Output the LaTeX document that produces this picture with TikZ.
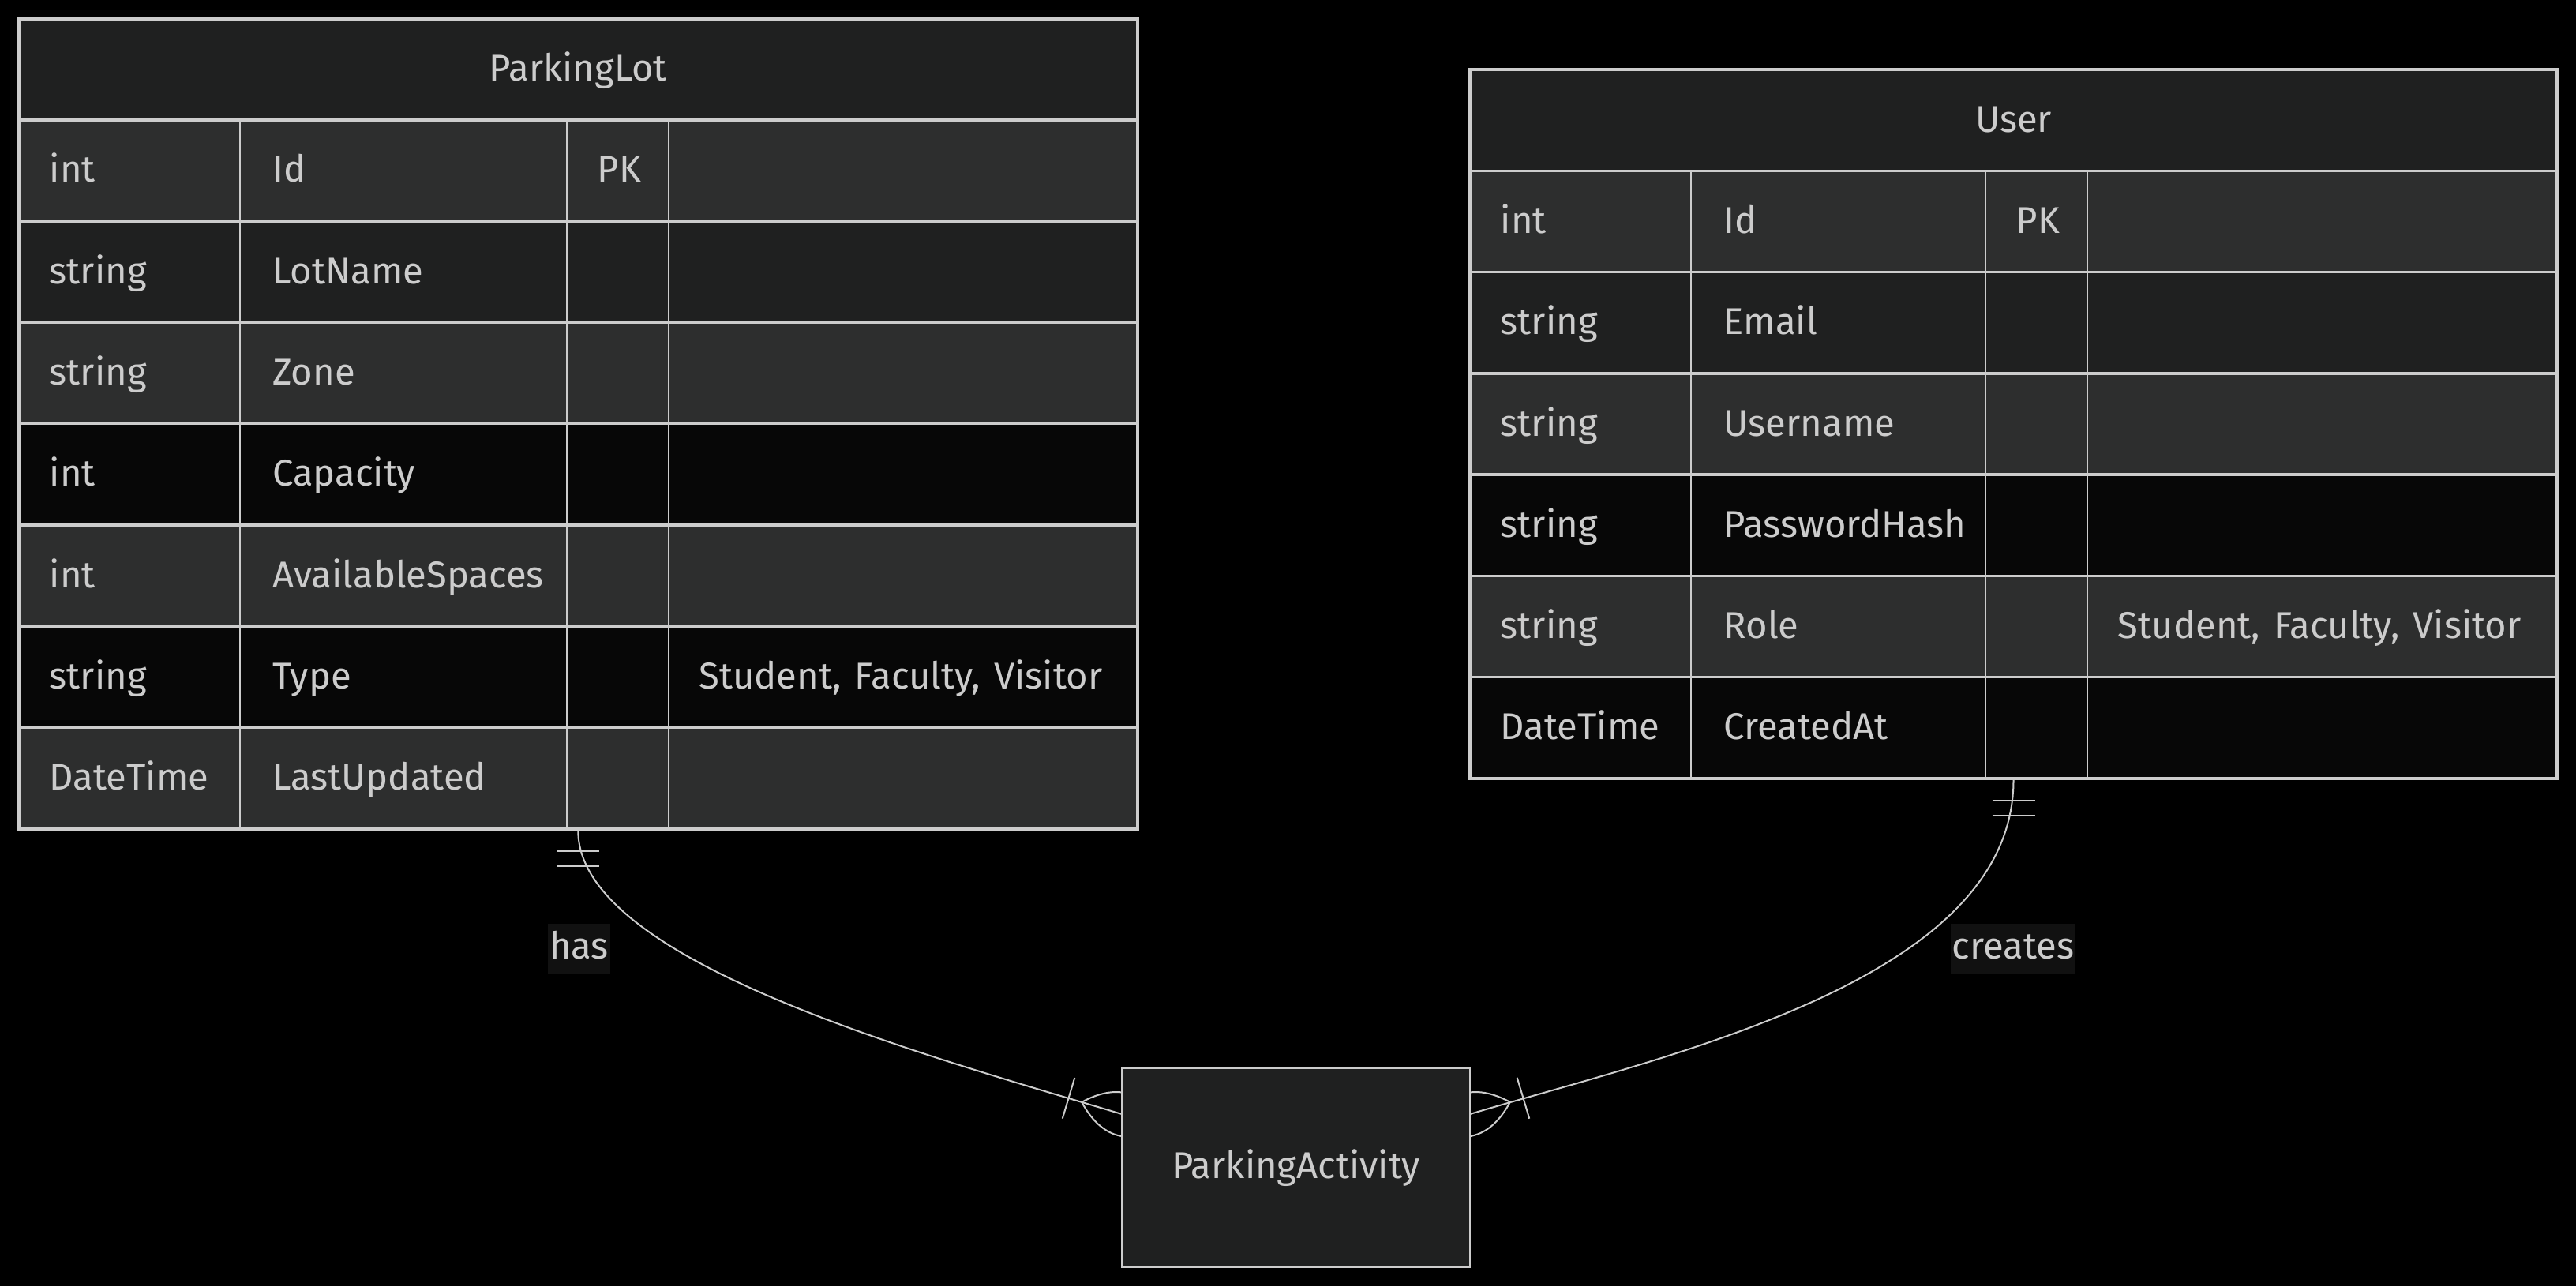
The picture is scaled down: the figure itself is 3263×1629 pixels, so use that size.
\documentclass[tikz,border=0pt]{standalone}
\usepackage{fontspec}
\setmainfont{Fira Sans}
\usetikzlibrary{calc}
\definecolor{bordc}{HTML}{CCCCCC}
\definecolor{textc}{HTML}{CCCCCC}
\definecolor{ttlfill}{HTML}{1F2020}
\definecolor{rowL}{HTML}{2D2E2E}
\definecolor{rowD}{HTML}{070707}
\definecolor{labfill}{HTML}{111111}
\newcommand{\fsz}{\fontsize{11.8pt}{14pt}\selectfont}
\begin{document}
\begin{tikzpicture}[x=0.25pt,y=-0.25pt,
  txt/.style={text=textc,font=\fsz,inner sep=0pt,anchor=base west},
  ttl/.style={text=textc,font=\fsz,inner sep=0pt,anchor=base},
  lab/.style={fill=labfill,text=textc,font=\fsz,inner ysep=0pt,inner xsep=0.4pt,text height=11pt,text depth=4.75pt,anchor=base},
  hsep/.style={draw=bordc,line width=0.875pt},
  vsep/.style={draw=bordc,line width=0.5pt},
  tablebox/.style={draw=bordc,line width=1pt,inner sep=0pt},
  conn/.style={draw=bordc,line width=0.5pt}]
\fill[black] (0,0) rectangle (3263,1629);
\useasboundingbox (0,0) rectangle (3263,1629);

% ---------------- ParkingLot ----------------
\foreach \k/\c in {0/ttlfill,1/rowL,2/ttlfill,3/rowL,4/rowD,5/rowL,6/rowD,7/rowL}
  \fill[\c] (23.5,{23.5+128.3*\k}) rectangle (1441,{23.5+128.3*(\k+1)});
\foreach \k in {1,...,7}
  \draw[hsep] (23.5,{23.5+128.3*\k}) -- (1441,{23.5+128.3*\k});
\foreach \x in {303.5,718,847}
  \draw[vsep] (\x,151.8) -- (\x,1049.9);
\node[tablebox,minimum width=354.375pt,minimum height=256.6pt] (pl) at (732.25,536.7) {};
\node[ttl] (pl-title) at (732.25,102.65) {ParkingLot};
\foreach \k/\a/\b in {1/int/Id,2/string/LotName,3/string/Zone,4/int/Capacity,5/int/AvailableSpaces,6/string/Type,7/DateTime/LastUpdated}{
  \node[txt] (pl-type-\k) at (62,{102.65+128.3*\k}) {\a};
  \node[txt] (pl-name-\k) at (344.5,{102.65+128.3*\k}) {\b};
}
\node[txt] (pl-pk) at (756,230.95) {PK};
\node[txt] (pl-note) at (884.5,{102.65+128.3*6}) {Student,\hspace{1.2pt} Faculty,\hspace{1.2pt} Visitor};

% ---------------- User ----------------
\foreach \k/\c in {0/ttlfill,1/rowL,2/ttlfill,3/rowL,4/rowD,5/rowL,6/rowD}
  \fill[\c] (1862,{88.3+128.2*\k}) rectangle (3239,{88.3+128.2*(\k+1)});
\foreach \k in {1,...,6}
  \draw[hsep] (1862,{88.3+128.2*\k}) -- (3239,{88.3+128.2*\k});
\foreach \x in {2142,2515,2644}
  \draw[vsep] (\x,216.5) -- (\x,985.7);
\node[tablebox,minimum width=344.25pt,minimum height=224.35pt] (user) at (2550.5,537) {};
\node[ttl] (user-title) at (2550.5,167.4) {User};
\foreach \k/\a/\b in {1/int/Id,2/string/Email,3/string/Username,4/string/PasswordHash,5/string/Role,6/DateTime/CreatedAt}{
  \node[txt] (user-type-\k) at (1900,{167.4+128.2*\k}) {\a};
  \node[txt] (user-name-\k) at (2183,{167.4+128.2*\k}) {\b};
}
\node[txt] (user-pk) at (2553,295.6) {PK};
\node[txt] (user-note) at (2682,{167.4+128.2*5}) {Student,\hspace{1.2pt} Faculty,\hspace{1.2pt} Visitor};

% ---------------- ParkingActivity anchors ----------------
\coordinate (pacenter) at (1641.5,1479);
\coordinate (paW) at (1421,1479);
\coordinate (paE) at (1862,1479);

% ---------------- connectors ----------------
\coordinate (hasS) at (pl.south);
\coordinate (hasE) at ($(paW)+(0,-68)$);
\coordinate (crS) at (user.south);
\coordinate (crE) at ($(paE)+(0,-68)$);

\draw[conn] (hasS) .. controls ($(hasS)+(0,166)$) and ($(hasE)+(-248,-74.4)$) .. (hasE);
\draw[conn] (crS) .. controls ($(crS)+(0,255)$) and ($(crE)+(250,-75)$) .. (crE);

% only-one markers
\foreach \s in {hasS,crS}{
  \draw[conn] ($(\s)+(-27,26.5)$) -- ($(\s)+(27,26.5)$);
  \draw[conn] ($(\s)+(-27,45)$) -- ($(\s)+(27,45)$);
}

% one-or-more marker at ParkingActivity west
\coordinate (hasT) at ($(hasE)+(-50.8,-15.2)$);
\coordinate (hasB) at ($(hasE)+(-67.5,-20.2)$);
\draw[conn] (hasT) .. controls ($(hasT)+(45.2,-24.4)$) and ($(hasT)+(80,-13.9)$) .. ($(hasT)+(104.4,31.3)$);
\draw[conn] (hasT) .. controls ($(hasT)+(24.4,45.2)$) and ($(hasT)+(59.2,55.7)$) .. ($(hasT)+(104.4,31.3)$);
\draw[conn] ($(hasB)+(-7.75,25.9)$) -- ($(hasB)+(7.75,-25.9)$);

% one-or-more marker at ParkingActivity east
\coordinate (crT) at ($(crE)+(50.8,-15.2)$);
\coordinate (crB) at ($(crE)+(67.5,-20.2)$);
\draw[conn] (crT) .. controls ($(crT)+(-45.2,-24.4)$) and ($(crT)+(-80,-13.9)$) .. ($(crT)+(-104.4,31.3)$);
\draw[conn] (crT) .. controls ($(crT)+(-24.4,45.2)$) and ($(crT)+(-59.2,55.7)$) .. ($(crT)+(-104.4,31.3)$);
\draw[conn] ($(crB)+(7.75,25.9)$) -- ($(crB)+(-7.75,-25.9)$);

% ---------------- ParkingActivity box ----------------
\node[draw=bordc,line width=0.7pt,fill=ttlfill,minimum width=110.25pt,minimum height=63pt,inner sep=0pt] (pa) at (pacenter) {};
\node[ttl] (pa-title) at (1641.5,1492.6) {ParkingActivity};

% ---------------- labels ----------------
\node[lab] (has-label) at (733.5,1214) {has};
\node[lab] (creates-label) at (2550,1214) {creates};
\end{tikzpicture}
\end{document}
